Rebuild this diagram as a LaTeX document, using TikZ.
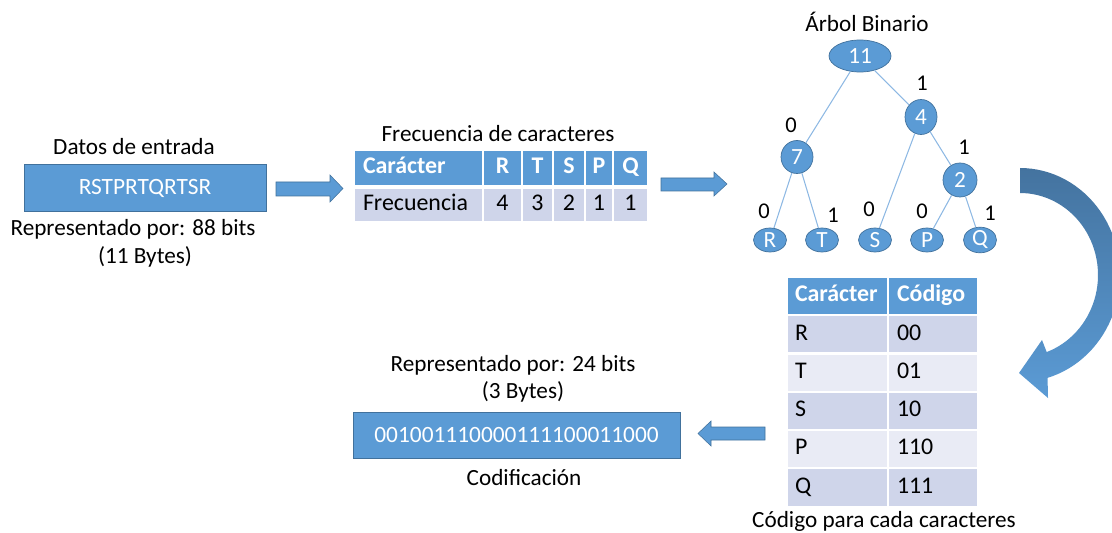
\documentclass[tikz,border=0pt]{standalone}
\usepackage{fontspec}
\setmainfont{Carlito}
\usetikzlibrary{shapes.geometric}
\definecolor{boxblue}{HTML}{5B9BD5}
\definecolor{boxline}{HTML}{41719C}
\definecolor{rowdark}{HTML}{CFD5EA}
\definecolor{rowlight}{HTML}{E9EBF5}
\definecolor{edgeblue}{HTML}{8DB8E3}
\definecolor{arcdark}{HTML}{44739F}

\begin{document}
\begin{tikzpicture}[x=0.02cm,y=-0.02cm,
  txt/.style={font=\fontsize{13.2}{15}\selectfont},
  bluebox/.style={fill=boxblue,draw=boxline,line width=0.4pt,text=white,inner sep=0pt,font=\fontsize{13.3}{15}\selectfont},
  blockarrow/.style={fill=boxblue,draw=boxline,line width=0.3pt},
  cell/.style={draw=white,line width=1.2pt,inner sep=0pt,text height=9pt,text depth=2.5pt,font=\fontsize{13.6}{15}\selectfont},
  headcell/.style={cell,fill=boxblue,text=white,font=\fontsize{13.6}{15}\selectfont\bfseries},
  tnode/.style={ellipse,fill=boxblue,draw=boxline,line width=0.4pt,text=white,inner sep=0pt,font=\fontsize{13.2}{14}\selectfont},
  edge/.style={draw=edgeblue,line width=0.6pt},
  bit/.style={font=\fontsize{12.8}{14}\selectfont}]
\useasboundingbox (0,0) rectangle (1112,533);

\node[txt] (intitle) at (134,147) {Datos de entrada};
\node[bluebox,minimum width=242*0.02cm,minimum height=47*0.02cm] (input) at (145,188) {RSTPRTQRTSR};
\node[txt] (inbits) at (133,229) {Representado por: 88 bits};
\node[txt] (inbytes) at (145,257) {(11 Bytes)};

\draw[blockarrow] (276,182) -- (330,182) -- (330,175) -- (343,188.5) -- (330,202) -- (330,196) -- (276,196) -- cycle;

\node[txt] (freqtitle) at (498,134) {Frecuencia de caracteres};
\node[headcell,minimum width=129*0.02cm,minimum height=36*0.02cm,inner xsep=0.18cm,text width=2.22cm,align=left] (fh0) at (418.5,168) {Carácter};
\node[cell,fill=rowdark,minimum width=129*0.02cm,minimum height=34*0.02cm,inner xsep=0.18cm,text width=2.22cm,align=left] (fr0) at (418.5,205) {Frecuencia};
\foreach \ch/\n/\xc/\w [count=\i] in {R/4/502.5/39,T/3/537.5/31,S/2/569/32,P/1/599/28,Q/1/630.5/35}{
  \node[headcell,minimum width=\w*0.02cm,minimum height=36*0.02cm] (fh\i) at (\xc,168) {\ch};
  \node[cell,fill=rowdark,minimum width=\w*0.02cm,minimum height=34*0.02cm] (fr\i) at (\xc,205) {\n};
}

\draw[blockarrow] (661,178) -- (714,178) -- (714,172) -- (727,184) -- (714,196) -- (714,191) -- (661,191) -- cycle;

\node[txt] (treetitle) at (867,22) {Árbol Binario};
\node[tnode,minimum width=62*0.02cm,minimum height=32*0.02cm] (n11) at (860,56) {11};
\node[tnode,minimum width=32*0.02cm,minimum height=35*0.02cm] (n4) at (921,117) {4};
\node[tnode,minimum width=32*0.02cm,minimum height=33*0.02cm] (n7) at (797,157) {7};
\node[tnode,minimum width=34*0.02cm,minimum height=34*0.02cm] (n2) at (960,180) {2};
\foreach \ch/\xc in {R/770,T/822,S/875,P/927,Q/980}
  \node[tnode,minimum width=33*0.02cm,minimum height=24*0.02cm] (leaf\ch) at (\xc,240) {\ch};

\draw[edge] (n11) -- (n7);
\draw[edge] (n11) -- (n4);
\draw[edge] (n7) -- (leafR);
\draw[edge] (n7) -- (leafT);
\draw[edge] (n4) -- (leafS);
\draw[edge] (n4) -- (n2);
\draw[edge] (n2) -- (leafP);
\draw[edge] (n2) -- (leafQ);
\node[bit] (b1) at (791,125) {0};
\node[bit] (b2) at (922,83) {1};
\node[bit] (b3) at (964,147) {1};
\node[bit] (b4) at (764,211) {0};
\node[bit] (b5) at (833,215) {1};
\node[bit] (b6) at (869,209) {0};
\node[bit] (b7) at (922,211) {0};
\node[bit] (b8) at (990,213) {1};

\shade[top color=arcdark,bottom color=boxblue] plot[domain=-90:74,samples=50] ({1020+100*cos(\x)},{275+107*sin(\x)}) -- (1048,398) -- (1019,373) -- (1042,340) -- plot[domain=70:-90,samples=50] ({1020+78*cos(\x)},{275+82*sin(\x)}) -- cycle;

\node[headcell,minimum width=101*0.02cm,minimum height=38*0.02cm,inner xsep=0.16cm,text width=1.7cm,align=left] (ch0) at (837.5,296) {Carácter};
\node[headcell,minimum width=90*0.02cm,minimum height=38*0.02cm,inner xsep=0.18cm,text width=1.44cm,align=left] (cc0) at (933,296) {Código};
\foreach \ch/\cd/\fc [count=\i] in {R/00/rowdark,T/01/rowlight,S/10/rowdark,P/110/rowlight,Q/111/rowdark}{
  \node[cell,fill=\fc,minimum width=101*0.02cm,minimum height=38.3*0.02cm,inner xsep=0.16cm,text width=1.7cm,align=left] (ch\i) at (837.5,{296+38.3*\i}) {\ch};
  \node[cell,fill=\fc,minimum width=90*0.02cm,minimum height=38.3*0.02cm,inner xsep=0.18cm,text width=1.44cm,align=left] (cc\i) at (933,{296+38.3*\i}) {\cd};
}
\node[txt] (codetitle) at (884,521) {Código para cada caracteres};

\draw[blockarrow] (765,427) -- (711,427) -- (711,421) -- (698,433.5) -- (711,446) -- (711,440) -- (765,440) -- cycle;

\node[txt] (outbits) at (513,365) {Representado por: 24 bits};
\node[txt] (outbytes) at (523,392) {(3 Bytes)};
\node[bluebox,minimum width=327*0.02cm,minimum height=46*0.02cm] (output) at (516.5,435) {001001110000111100011000};
\node[txt] (outtitle) at (524,478) {Codificación};
\end{tikzpicture}
\end{document}
